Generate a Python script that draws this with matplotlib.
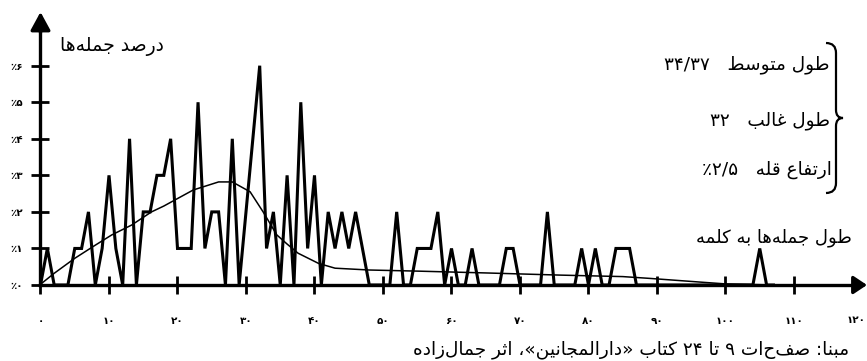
import re
import matplotlib
matplotlib.use("Agg")
import matplotlib.pyplot as plt
from matplotlib.path import Path
from matplotlib.patches import PathPatch

plt.rcParams['font.family'] = ['DejaVu Sans']

# ---------------- data ----------------
sentence_length = list(range(0, 108))          # words per sentence
percent_sentences = [
    0, 1, 0, 0, 0, 1, 1, 2, 0, 1,     # 0-9
    3, 1, 0, 4, 0, 2, 2, 3, 3, 4,     # 10-19
    1, 1, 1, 5, 1, 2, 2, 0, 4, 0,     # 20-29
    2, 4, 6, 1, 2, 0, 3, 0, 5, 1,     # 30-39
    3, 0, 2, 1, 2, 1, 2, 1, 0, 0,     # 40-49
    0, 0, 2, 0, 0, 1, 1, 1, 2, 0,     # 50-59
    1, 0, 0, 1, 0, 0, 0, 0, 1, 1,     # 60-69
    0, 0, 0, 0, 2, 0, 0, 0, 0, 1,     # 70-79
    0, 1, 0, 0, 1, 1, 1, 0, 0, 0,     # 80-89
    0, 0, 0, 0, 0, 0, 0, 0, 0, 0,     # 90-99
    0, 0, 0, 0, 0, 1, 0, 0,           # 100-107
]
trend_x = [0, 2, 5, 8, 10.4, 13.3, 16.2, 18, 22.3, 26, 28, 30.6, 32.5, 34.5,
           36, 37.6, 40.6, 43, 48, 55, 65, 76, 85, 89, 97, 100, 107]
trend_y = [0.02, 0.32, 0.73, 1.09, 1.37, 1.64, 2.0, 2.16, 2.6, 2.82, 2.82, 2.55,
           2.0, 1.37, 1.12, 0.87, 0.59, 0.46, 0.41, 0.38, 0.33, 0.27, 0.23, 0.18,
           0.07, 0.03, 0.0]

x_ticks = [0, 10, 20, 30, 40, 50, 60, 70, 80, 90, 100, 110]
x_tick_labels = ['۰', '۱۰', '۲۰', '۳۰', '۴۰', '۵۰', '۶۰', '۷۰', '۸۰', '۹۰', '۱۰۰', '۱۱۰']
x_last_tick = 120
x_last_label = '۱۲۰'
y_ticks = [0, 1, 2, 3, 4, 5, 6]
y_tick_labels = ['٪۰', '٪۱', '٪۲', '٪۳', '٪۴', '٪۵', '٪۶']

y_title = 'درصد جمله‌ها'
x_title = 'طول جمله‌ها به کلمه'
stat_mean = 'طول متوسط   ۳۴/۳۷'
stat_mode = 'طول غالب   ۳۲'
stat_peak = 'ارتفاع قله   ۲/۵٪'
caption = 'مبنا: صفحات ۹ تا ۲۴ کتاب «دارالمجانین»، اثر جمال‌زاده'

# ---------------- minimal Arabic-script shaping ----------------
FORMS = {
    'ا': ('\uFE8D', '\uFE8E', None, None),
    'ب': ('\uFE8F', '\uFE90', '\uFE91', '\uFE92'),
    'ت': ('\uFE95', '\uFE96', '\uFE97', '\uFE98'),
    'ث': ('\uFE99', '\uFE9A', '\uFE9B', '\uFE9C'),
    'ج': ('\uFE9D', '\uFE9E', '\uFE9F', '\uFEA0'),
    'د': ('\uFEA9', '\uFEAA', None, None),
    'ر': ('\uFEAD', '\uFEAE', None, None),
    'ز': ('\uFEAF', '\uFEB0', None, None),
    'س': ('\uFEB1', '\uFEB2', '\uFEB3', '\uFEB4'),
    'ص': ('\uFEB9', '\uFEBA', '\uFEBB', '\uFEBC'),
    'ط': ('\uFEC1', '\uFEC2', '\uFEC3', '\uFEC4'),
    'ع': ('\uFEC9', '\uFECA', '\uFECB', '\uFECC'),
    'غ': ('\uFECD', '\uFECE', '\uFECF', '\uFED0'),
    'ف': ('\uFED1', '\uFED2', '\uFED3', '\uFED4'),
    'ق': ('\uFED5', '\uFED6', '\uFED7', '\uFED8'),
    'ل': ('\uFEDD', '\uFEDE', '\uFEDF', '\uFEE0'),
    'م': ('\uFEE1', '\uFEE2', '\uFEE3', '\uFEE4'),
    'ن': ('\uFEE5', '\uFEE6', '\uFEE7', '\uFEE8'),
    'ه': ('\uFEE9', '\uFEEA', '\uFEEB', '\uFEEC'),
    'و': ('\uFEED', '\uFEEE', None, None),
    'ک': ('\uFB8E', '\uFB8F', '\uFB90', '\uFB91'),
    'ی': ('\uFBFC', '\uFBFD', '\uFBFE', '\uFBFF'),
}
DUAL = {c for c, f in FORMS.items() if f[2] is not None}


def shape(s):
    out = []
    for i, c in enumerate(s):
        if c == '\u200c':
            continue
        if c not in FORMS:
            out.append(c)
            continue
        prev = s[i - 1] if i > 0 else ''
        nxt = s[i + 1] if i + 1 < len(s) else ''
        jp = prev in DUAL
        jn = (c in DUAL) and (nxt in FORMS)
        iso, fin, ini, med = FORMS[c]
        if jp and jn:
            out.append(med)
        elif jp:
            out.append(fin)
        elif jn:
            out.append(ini)
        else:
            out.append(iso)
    return ''.join(out)


def rtl(s):
    shaped = shape(s)
    tokens = re.findall(r'[۰-۹]+(?:/[۰-۹]+)*|.', shaped, re.S)
    mirror = {'«': '»', '»': '«', '(': ')', ')': '('}
    return ''.join(mirror.get(t, t) for t in reversed(tokens))


# ---------------- figure ----------------
W, H = 867, 361
fig = plt.figure(figsize=(W / 100, H / 100), dpi=100)
ax = fig.add_axes([0, 0, 1, 1])

X0, XS = 40.5, 6.85     # px of x=0, px per word
Y0, YS = 285.0, 36.55   # px of 0 %, px per percent
ax.set_xlim(-X0 / XS, (W - X0) / XS)
ax.set_ylim((Y0 - H) / YS, Y0 / YS)


def fx(px):
    return px / W


def fy(py):
    return 1 - py / H


# series
ax.plot(sentence_length, percent_sentences, color='black', lw=2.2,
        solid_joinstyle='miter', zorder=3)
ax.plot(trend_x, trend_y, color='black', lw=1.1, zorder=3)

# axes as spines
for side in ('top', 'right'):
    ax.spines[side].set_visible(False)
ax.spines['left'].set_position(('data', 0))
ax.spines['bottom'].set_position(('data', 0))
ax.spines['left'].set_linewidth(2.4)
ax.spines['bottom'].set_linewidth(2.4)
ax.spines['left'].set_bounds(0, 7.1)
ax.spines['bottom'].set_bounds(0, 119.5)

ax.set_xticks(x_ticks)
ax.set_xticklabels(x_tick_labels, fontsize=7.5, fontweight='bold')
ax.set_yticks(y_ticks)
ax.set_yticklabels(y_tick_labels, fontsize=7.5, fontweight='bold')
ax.tick_params(axis='x', direction='inout', length=13, width=2, pad=16)
ax.tick_params(axis='y', direction='inout', length=13, width=2, pad=6)

# label for 120 (under the arrow, no tick mark), same row as tick labels
lbl_y = (Y0 - 320) / YS
ax.text(x_last_tick - 1.0, lbl_y, x_last_label, fontsize=7.5, fontweight='bold',
        ha='center', va='center')

# arrowheads
ax.annotate('', xy=(0, (Y0 - 12) / YS), xytext=(0, 6.9),
            arrowprops=dict(arrowstyle='-|>,head_length=0.55,head_width=0.3',
                            mutation_scale=20, lw=2.4, color='black',
                            shrinkA=0, shrinkB=0))
ax.annotate('', xy=((W - X0) / XS, 0), xytext=(119, 0),
            arrowprops=dict(arrowstyle='-|>,head_length=0.45,head_width=0.3',
                            mutation_scale=18, lw=2.4, color='black',
                            shrinkA=0, shrinkB=0))

# texts
fig.text(fx(60), fy(46), rtl(y_title), fontsize=13.5, ha='left', va='center')
fig.text(fx(830), fy(65), rtl(stat_mean), fontsize=13.3, ha='right', va='center')
fig.text(fx(830), fy(121), rtl(stat_mode), fontsize=13.3, ha='right', va='center')
fig.text(fx(832), fy(170), rtl(stat_peak), fontsize=13.3, ha='right', va='center')
fig.text(fx(852), fy(238), rtl(x_title), fontsize=13, ha='right', va='center')
fig.text(fx(849), fy(350), rtl(caption), fontsize=13.3, ha='right', va='center')

# brace
bx, tip = 836, 843
verts = [(826, 43), (bx, 43), (bx, 53),
         (bx, 110),
         (bx, 118), (tip, 118),
         (bx, 118), (bx, 126),
         (bx, 183),
         (bx, 193), (826, 193)]
codes = [Path.MOVETO, Path.CURVE3, Path.CURVE3,
         Path.LINETO,
         Path.CURVE3, Path.CURVE3,
         Path.CURVE3, Path.CURVE3,
         Path.LINETO,
         Path.CURVE3, Path.CURVE3]
brace = Path([(fx(a), fy(b)) for a, b in verts], codes)
fig.add_artist(PathPatch(brace, transform=fig.transFigure, fill=False,
                         lw=1.6, edgecolor='black'))

fig.savefig('out.png', dpi=100)
